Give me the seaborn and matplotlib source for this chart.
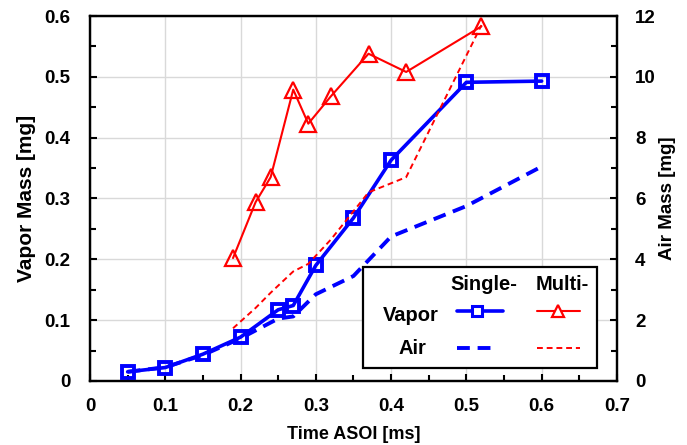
import matplotlib
matplotlib.use("Agg")
import matplotlib.pyplot as plt
import seaborn as sns
import pandas as pd
from matplotlib.patches import Rectangle
from matplotlib.lines import Line2D
from matplotlib.ticker import MultipleLocator, FuncFormatter

# ---- data ----
t_single = [0.05, 0.10, 0.15, 0.20, 0.25, 0.27, 0.30, 0.35, 0.40, 0.50, 0.60]
vapor_single = [0.015, 0.022, 0.044, 0.072, 0.117, 0.124, 0.190, 0.268, 0.363, 0.491, 0.493]
air_single = [0.30, 0.45, 0.85, 1.40, 2.05, 2.12, 2.85, 3.45, 4.75, 5.75, 7.05]

t_multi = [0.19, 0.22, 0.24, 0.27, 0.29, 0.32, 0.37, 0.42, 0.52]
vapor_multi = [0.202, 0.294, 0.335, 0.479, 0.423, 0.468, 0.538, 0.508, 0.583]
air_multi = [1.73, 2.40, 2.90, 3.60, 3.85, 4.65, 6.20, 6.70, 11.70]

xlabel = "Time ASOI [ms]"
ylabel_left = "Vapor Mass [mg]"
ylabel_right = "Air Mass [mg]"
col_headers = ["Single-", "Multi-"]
row_labels = ["Vapor", "Air"]

sns.set_style("white")
plt.rcParams['font.family'] = ['Liberation Sans', 'DejaVu Sans']
plt.rcParams['font.weight'] = 'bold'
plt.rcParams['axes.labelweight'] = 'bold'
plt.rcParams['text.color'] = 'black'
plt.rcParams['axes.labelcolor'] = 'black'
plt.rcParams['xtick.color'] = 'black'
plt.rcParams['ytick.color'] = 'black'

BLUE = "#0000FF"
RED = "#FF0000"
FS_TICK = 13.5
FS_LEG = 14.5

fig = plt.figure(figsize=(6.87, 4.45), dpi=100)
ax = fig.add_axes([0.131, 0.144, 0.767, 0.820])
ax2 = ax.twinx()

df_s = pd.DataFrame({"t": t_single, "vapor": vapor_single, "air": air_single})
df_m = pd.DataFrame({"t": t_multi, "vapor": vapor_multi, "air": air_multi})

sns.lineplot(data=df_s, x="t", y="vapor", ax=ax, sort=False, color=BLUE, lw=2.6,
             marker="s", ms=8, mfc="none", mec=BLUE, mew=2.8, zorder=5)
sns.lineplot(data=df_m, x="t", y="vapor", ax=ax, sort=False, color=RED, lw=1.5,
             marker="^", ms=11, mfc="none", mec=RED, mew=1.6, zorder=5)
sns.lineplot(data=df_s, x="t", y="air", ax=ax2, sort=False, color=BLUE, lw=2.8,
             zorder=4).lines[-1].set_dashes((3.3, 2.0))
sns.lineplot(data=df_m, x="t", y="air", ax=ax2, sort=False, color=RED, lw=1.4,
             zorder=4).lines[-1].set_dashes((3, 2))

ax.set_xlim(0, 0.7)
ax.set_ylim(0, 0.6)
ax2.set_ylim(0, 12)

ax.xaxis.set_major_locator(MultipleLocator(0.1))
ax.xaxis.set_minor_locator(MultipleLocator(0.05))
ax.yaxis.set_major_locator(MultipleLocator(0.1))
ax.yaxis.set_minor_locator(MultipleLocator(0.05))
ax2.yaxis.set_major_locator(MultipleLocator(2))
ax2.yaxis.set_minor_locator(MultipleLocator(1))

fmt = FuncFormatter(lambda v, p: "0" if abs(v) < 1e-9 else f"{v:.1f}")
ax.xaxis.set_major_formatter(fmt)
ax.yaxis.set_major_formatter(fmt)

ax.grid(True, which="major", color="#d9d9d9", lw=1.0)
ax.set_axisbelow(True)

for a in (ax, ax2):
    for s in a.spines.values():
        s.set_linewidth(1.6)
        s.set_color("black")

ax.tick_params(axis="both", which="major", direction="in", length=5, width=1.5, labelsize=FS_TICK)
ax.tick_params(axis="both", which="minor", direction="in", length=4, width=1.5)
ax.tick_params(axis="x", which="major", pad=12)
ax.tick_params(axis="y", which="major", pad=14)
ax.tick_params(axis="x", which="both", top=False, bottom=True)
ax.tick_params(axis="y", which="both", left=True, right=False)
ax2.tick_params(axis="y", which="major", direction="in", length=5, width=1.5, labelsize=FS_TICK, pad=13)
ax2.tick_params(axis="y", which="minor", direction="in", length=4, width=1.5)
for lab in ax.get_xticklabels() + ax.get_yticklabels() + ax2.get_yticklabels():
    lab.set_fontweight("bold")

ax.set_xlabel(xlabel, fontsize=13, fontweight="bold", labelpad=8)
ax.set_ylabel(ylabel_left, fontsize=15, fontweight="bold", labelpad=6)
ax2.set_ylabel(ylabel_right, fontsize=13.5, fontweight="bold", labelpad=2)

# ---- custom legend (axes-fraction layout) ----
T = ax.transAxes
box = Rectangle((0.518, 0.036), 0.444, 0.276, transform=T, facecolor="white",
                edgecolor="black", lw=1.6, zorder=10)
ax.add_patch(box)
ax.text(0.748, 0.263, col_headers[0], transform=T, ha="center", va="center",
        fontsize=FS_LEG, fontweight="bold", zorder=11)
ax.text(0.896, 0.263, col_headers[1], transform=T, ha="center", va="center",
        fontsize=FS_LEG, fontweight="bold", zorder=11)
ax.text(0.609, 0.178, row_labels[0], transform=T, ha="center", va="center",
        fontsize=FS_LEG, fontweight="bold", zorder=11)
ax.text(0.611, 0.088, row_labels[1], transform=T, ha="center", va="center",
        fontsize=FS_LEG, fontweight="bold", zorder=11)

ax.add_line(Line2D([0.696, 0.783], [0.192, 0.192], transform=T, color=BLUE, lw=2.6, zorder=11))
ax.add_line(Line2D([0.735], [0.192], transform=T, ls="none", marker="s", ms=7, mfc="white", mec=BLUE, mew=2.2, zorder=12))
ax.add_line(Line2D([0.848, 0.930], [0.192, 0.192], transform=T, color=RED, lw=1.5, zorder=11))
ax.add_line(Line2D([0.888], [0.192], transform=T, ls="none", marker="^", ms=8, mfc="white", mec=RED, mew=1.6, zorder=12))
ax.add_line(Line2D([0.696, 0.775], [0.090, 0.090], transform=T, color=BLUE, lw=2.8, dashes=(3.3, 2.0), zorder=11))
ax.add_line(Line2D([0.848, 0.930], [0.090, 0.090], transform=T, color=RED, lw=1.4, dashes=(3, 2), zorder=11))

fig.savefig("out.png", dpi=100)
